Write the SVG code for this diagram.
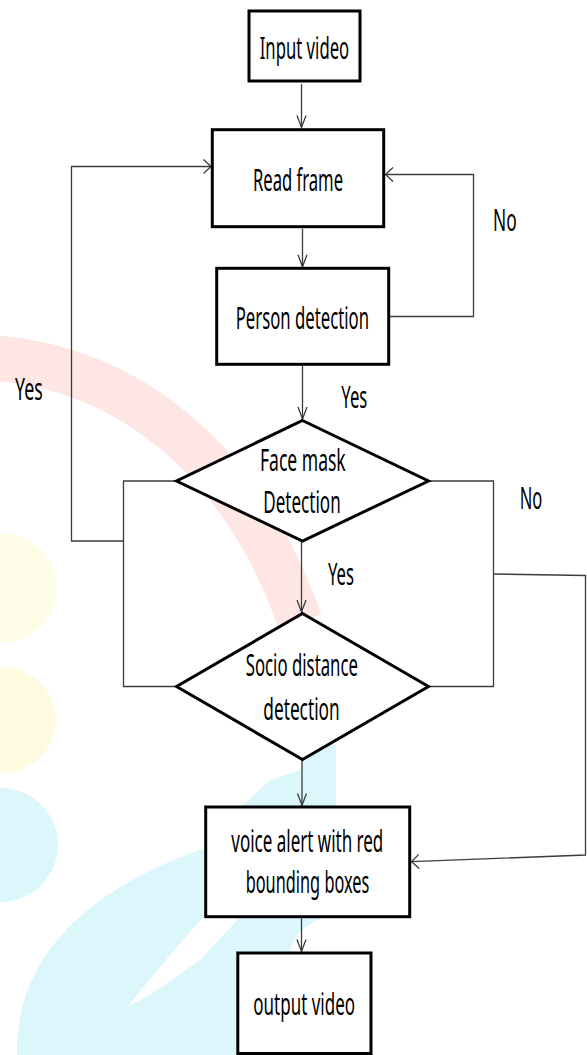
<svg xmlns="http://www.w3.org/2000/svg" width="587" height="1055" viewBox="0 0 587 1055">
<style>
.box{fill:#fff;stroke:#000;stroke-width:3}
.dia{fill:#fff;stroke:#000;stroke-width:3;stroke-linejoin:miter}
.t{font-family:"Noto Sans","Open Sans",sans-serif;font-size:31px;fill:#000}
.c{fill:none;stroke:#3c3c3c;stroke-width:1.3}
.ah{fill:none;stroke:#3c3c3c;stroke-width:1.3}
</style>
<defs>
<marker id="arrV" viewBox="0 0 12 10" refX="12" refY="5" markerWidth="12" markerHeight="10" markerUnits="userSpaceOnUse" orient="auto" overflow="visible">
<path class="ah" d="M0,0.5 L12,5 L0,9.5"/>
</marker>
<marker id="arrH" viewBox="0 0 8 16" refX="7.5" refY="8" markerWidth="8" markerHeight="16" markerUnits="userSpaceOnUse" orient="auto" overflow="visible">
<path class="ah" d="M0,1 L7.5,8 L0,15"/>
</marker>
</defs>
<rect width="587" height="1055" fill="#fff"/>
<g id="watermark">
<path d="M-5,358 C120,368 240,450 300,622" fill="none" stroke="#fde6e3" stroke-width="45"/>
<ellipse cx="0" cy="588" rx="56" ry="55" fill="#fefee8"/>
<ellipse cx="0" cy="720" rx="56" ry="53" fill="#fefbe0"/>
<ellipse cx="0" cy="845" rx="58" ry="57" fill="#dcf7fc"/>
<path d="M17,1055 C15,970 70,895 205,848 L243,805 L270,780 L300,770 L306,745 L336,745 L336,810 L325,917 C305,925 292,935 290,955 L250,1055 Z" fill="#dcf7fc"/>
<path d="M128,1006 L170,955 L203,917 L240,917 L200,960 L150,995 Z" fill="#fff"/>
</g>
<g id="connectors">
<path class="c" d="M301.5,84 V127.5" marker-end="url(#arrV)"/>
<path class="c" d="M302.5,228.5 V266.8" marker-end="url(#arrV)"/>
<path class="c" d="M302.5,366 V419" marker-end="url(#arrV)"/>
<path class="c" d="M301.5,541 V612" marker-end="url(#arrV)"/>
<path class="c" d="M302,759.5 V805.5" marker-end="url(#arrV)"/>
<path class="c" d="M301.5,918 V951.5" marker-end="url(#arrV)"/>
<path class="c" d="M176,481 H123.5 V686.5 H176"/>
<path class="c" d="M123.5,541 H71.5 V166.5 H211" marker-end="url(#arrH)"/>
<path class="c" d="M389,316.5 H473.5 V174.5 H385.5" marker-end="url(#arrH)"/>
<path class="c" d="M429,481 H493.5 V686.5 H429"/>
<path class="c" d="M493.5,574 L585.5,575.5 V855 L411.5,861.7" marker-end="url(#arrH)"/>
<text class="t" x="493" y="231" textLength="23.7" lengthAdjust="spacingAndGlyphs">No</text>
<text class="t" x="15" y="400" textLength="27.7" lengthAdjust="spacingAndGlyphs">Yes</text>
<text class="t" x="341.3" y="408.3" textLength="26" lengthAdjust="spacingAndGlyphs">Yes</text>
<text class="t" x="519.7" y="509.3" textLength="22.6" lengthAdjust="spacingAndGlyphs">No</text>
<text class="t" x="328" y="585" textLength="26" lengthAdjust="spacingAndGlyphs">Yes</text>
</g>
<g id="input-video">
<rect class="box" x="249" y="11" width="111" height="70"/>
<text class="t" x="259.7" y="58.5" textLength="89.5" lengthAdjust="spacingAndGlyphs">Input video</text>
</g>
<g id="read-frame">
<rect class="box" x="212.3" y="129.7" width="171.4" height="97"/>
<text class="t" x="253" y="190.5" textLength="90" lengthAdjust="spacingAndGlyphs">Read frame</text>
</g>
<g id="person-detection">
<rect class="box" x="216.7" y="268.3" width="172" height="96"/>
<text class="t" x="235.7" y="329.3" textLength="133.3" lengthAdjust="spacingAndGlyphs">Person detection</text>
</g>
<g id="face-mask-detection">
<polygon class="dia" points="302.5,420.5 428.5,481 302.5,541 176.5,481"/>
<text class="t" x="260" y="470.7" textLength="85.7" lengthAdjust="spacingAndGlyphs">Face mask</text>
<text class="t" x="263.3" y="512.7" textLength="77.4" lengthAdjust="spacingAndGlyphs">Detection</text>
</g>
<g id="socio-distance-detection">
<polygon class="dia" points="302.5,613.5 428.5,686.5 302.5,759.5 176.5,686.5"/>
<text class="t" x="245.7" y="676" textLength="112.3" lengthAdjust="spacingAndGlyphs">Socio distance</text>
<text class="t" x="263.3" y="719.5" textLength="76.4" lengthAdjust="spacingAndGlyphs">detection</text>
</g>
<g id="voice-alert">
<rect class="box" x="205.7" y="807" width="204" height="109.7"/>
<text class="t" x="231.3" y="851.7" textLength="152" lengthAdjust="spacingAndGlyphs">voice alert with red</text>
<text class="t" x="245.7" y="893.3" textLength="123.6" lengthAdjust="spacingAndGlyphs">bounding boxes</text>
</g>
<g id="output-video">
<rect class="box" x="237.8" y="953" width="133.2" height="100.5"/>
<text class="t" x="253.3" y="1015" textLength="101.7" lengthAdjust="spacingAndGlyphs">output video</text>
</g>
</svg>
